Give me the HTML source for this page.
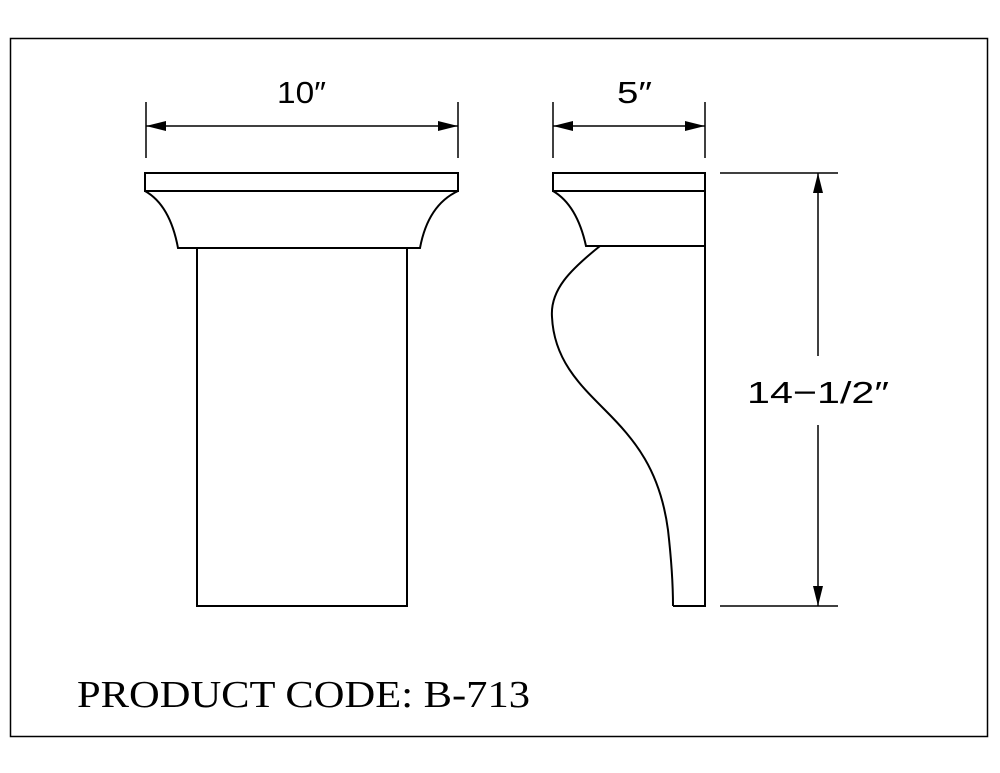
<!DOCTYPE html>
<html><head><style>html,body{margin:0;padding:0;background:#fff;}svg{display:block}</style></head>
<body>
<svg width="1000" height="773" viewBox="0 0 1000 773" xmlns="http://www.w3.org/2000/svg">
<rect x="0" y="0" width="1000" height="773" fill="#fff"/>
<rect x="10.5" y="38.5" width="977" height="698" fill="none" stroke="#000" stroke-width="1.5"/>
<g fill="none" stroke="#000" stroke-width="2">
<!-- front view -->
<rect x="145" y="173" width="313" height="18"/>
<path d="M145 191 Q170 205 178 248 L420 248 Q428 205 458 191"/>
<path d="M197 248 V606 H407 V248"/>
<!-- side view -->
<rect x="553" y="173" width="152" height="18"/>
<path d="M553 191 Q577 205 586 246 L705 246"/>
<path d="M705 191 V606 H673"/>
<path d="M600 246 C570 270 550 290 552 317 C554 360 580 385 605 410 C635 440 660 470 668 530 C672 565 673 590 673 606"/>
</g>
<g stroke="#000" stroke-width="1.5" fill="none">
<!-- 10" dim -->
<line x1="146" y1="102" x2="146" y2="158"/>
<line x1="458" y1="102" x2="458" y2="158"/>
<line x1="146" y1="126" x2="458" y2="126"/>
<!-- 5" dim -->
<line x1="553" y1="102" x2="553" y2="158"/>
<line x1="705" y1="102" x2="705" y2="158"/>
<line x1="553" y1="126" x2="705" y2="126"/>
<!-- 14-1/2 dim -->
<line x1="720" y1="173" x2="838" y2="173"/>
<line x1="720" y1="606" x2="838" y2="606"/>
<line x1="818" y1="173" x2="818" y2="356"/>
<line x1="818" y1="425" x2="818" y2="606"/>
</g>
<g fill="#000">
<polygon points="146,126 166,121 166,131"/>
<polygon points="458,126 438,121 438,131"/>
<polygon points="553,126 573,121 573,131"/>
<polygon points="705,126 685,121 685,131"/>
<polygon points="818,173 813,193 823,193"/>
<polygon points="818,606 813,586 823,586"/>
</g>
<g font-family="'Liberation Sans', sans-serif" font-size="31" fill="#000">
<text x="277" y="103" textLength="49" lengthAdjust="spacingAndGlyphs">10″</text>
<text x="617" y="103" textLength="35" lengthAdjust="spacingAndGlyphs">5″</text>
<text x="747" y="403" textLength="142" lengthAdjust="spacingAndGlyphs">14−1/2″</text>
</g>
<text x="77" y="707" font-family="'Liberation Serif', serif" font-size="38" fill="#000" textLength="453" lengthAdjust="spacingAndGlyphs">PRODUCT CODE: B-713</text>
</svg>
</body></html>
